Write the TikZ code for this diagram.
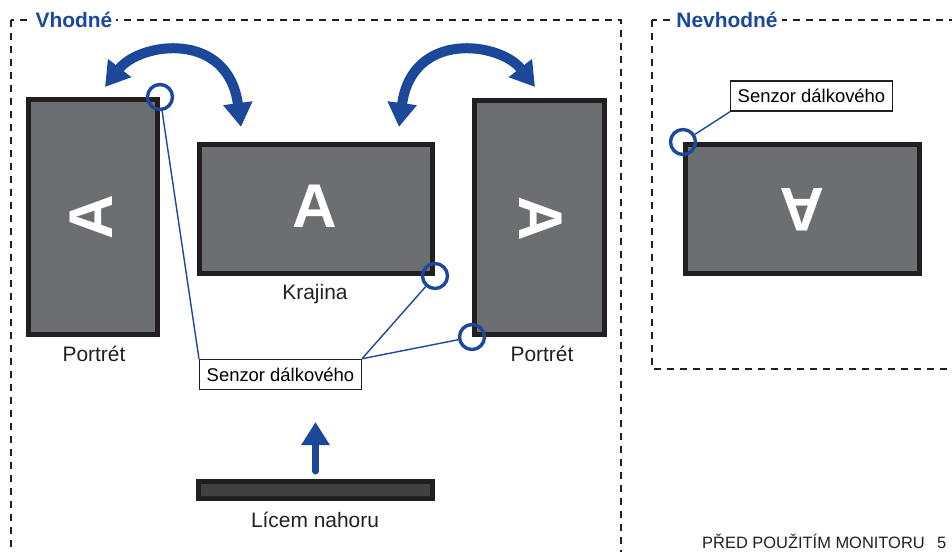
\documentclass[tikz,border=0pt]{standalone}
\usepackage{fontspec}
\setmainfont{Liberation Sans}
\usetikzlibrary{arrows.meta, positioning, calc}

\definecolor{signblue}{RGB}{27,72,155}
\definecolor{panelgray}{RGB}{109,110,113}
\definecolor{rimblack}{RGB}{35,31,32}
\definecolor{backgray}{RGB}{65,64,66}

\begin{document}
\begin{tikzpicture}[x=1bp, y=-1bp,
        screen/.style={draw=rimblack, line width=5bp, fill=panelgray, inner sep=0pt},
        letter/.style={text=white, inner sep=0pt, font=\fontsize{62}{62}\selectfont\bfseries},
        label/.style={text=rimblack, anchor=base, inner sep=0pt, font=\fontsize{21}{24}\selectfont},
        sensor/.style={draw=rimblack, line width=1.5bp, fill=white, minimum height=30bp, inner xsep=7bp, font=\fontsize{18.5}{20}\selectfont},
        spot/.style={circle, draw=signblue, line width=3.4bp, minimum size=25bp, inner sep=0pt},
        lead/.style={draw=signblue, line width=1.4bp},
        swing/.style={signblue, line width=10bp, {Triangle[width=28bp,length=24bp]}-{Triangle[width=28bp,length=24bp]}},
        rise/.style={signblue, line width=7bp, line cap=round, -{Triangle[width=27bp,length=23bp]}},
        frame/.style={draw=rimblack, line width=2bp, dash pattern=on 7bp off 6bp},
        title/.style={text=signblue, fill=white, inner xsep=4bp, font=\fontsize{21}{24}\selectfont\bfseries}
    ]
    \useasboundingbox (0,0) rectangle (952,552);

    % Dashed frames
    \draw[frame] (11,20) rectangle (621,575);
    \draw[frame] (652,20) rectangle (975,369);
    \node[title] (good) at (74,20) {Vhodné};
    \node[title] (bad) at (727,20) {Nevhodné};

    % Suitable positions
    \node[screen, minimum width=129bp, minimum height=235bp] (portrait_l) at (93,217) {};
    \node[letter, rotate=90] (letter_l) at (91,217) {A};
    \node[label] (cap_l) at (94,362) {Portrét};

    \node[screen, minimum width=233bp, minimum height=129bp] (landscape) at (316,209) {};
    \node[letter] (letter_c) at (315,206) {A};
    \node[label] (cap_c) at (315,300) {Krajina};

    \node[screen, minimum width=130bp, minimum height=234bp] (portrait_r) at (539.5,217.5) {};
    \node[letter, rotate=-90] (letter_r) at (541,219) {A};
    \node[label] (cap_r) at (542,362) {Portrét};

    \node[screen, fill=backgray, minimum width=234bp, minimum height=17bp] (faceup) at (315.5,490) {};
    \node[label] (cap_f) at (315,527) {Lícem nahoru};

    % Turning arrows
    \coordinate (swing_la) at (105,87);
    \coordinate (swing_lb) at (241,127);
    \coordinate (swing_ra) at (399,127);
    \coordinate (swing_rb) at (535,87);
    \draw[swing] (swing_la) .. controls (140,42) and (228,30) .. (swing_lb);
    \draw[swing] (swing_ra) .. controls (412,30) and (500,42) .. (swing_rb);

    % Face up arrow
    \coordinate (rise_from) at ($(faceup.north)+(0,-8)$);
    \coordinate (rise_to) at (315.5,422);
    \draw[rise] (rise_from) -- (rise_to);

    % Remote sensor spots
    \node[spot] (spot_l) at (portrait_l.north east) {};
    \node[spot] (spot_c) at (landscape.south east) {};
    \node[spot] (spot_r) at (portrait_r.south west) {};
    \node[sensor] (sensor_ok) at (280.5,374.5) {Senzor dálkového};
    \draw[lead] (spot_l) -- (sensor_ok.north west);
    \draw[lead] (spot_c) -- (sensor_ok.north east);
    \draw[lead] (spot_r) -- (sensor_ok.north east);

    % Unsuitable position
    \node[screen, minimum width=234bp, minimum height=129bp] (upside) at (802.5,209) {};
    \node[letter, rotate=180] (letter_u) at (802,210) {A};
    \node[spot] (spot_u) at (upside.north west) {};
    \node[sensor] (sensor_bad) at (811.5,96) {Senzor dálkového};
    \draw[lead] (spot_u) -- (sensor_bad.south west);

    % Page footer
    \node[anchor=base west, inner sep=0pt, text=rimblack, font=\fontsize{16.5}{18}\selectfont] (footer) at (702,548) {PŘED POUŽITÍM MONITORU\hspace{0.75em}5};

\end{tikzpicture}
\end{document}
